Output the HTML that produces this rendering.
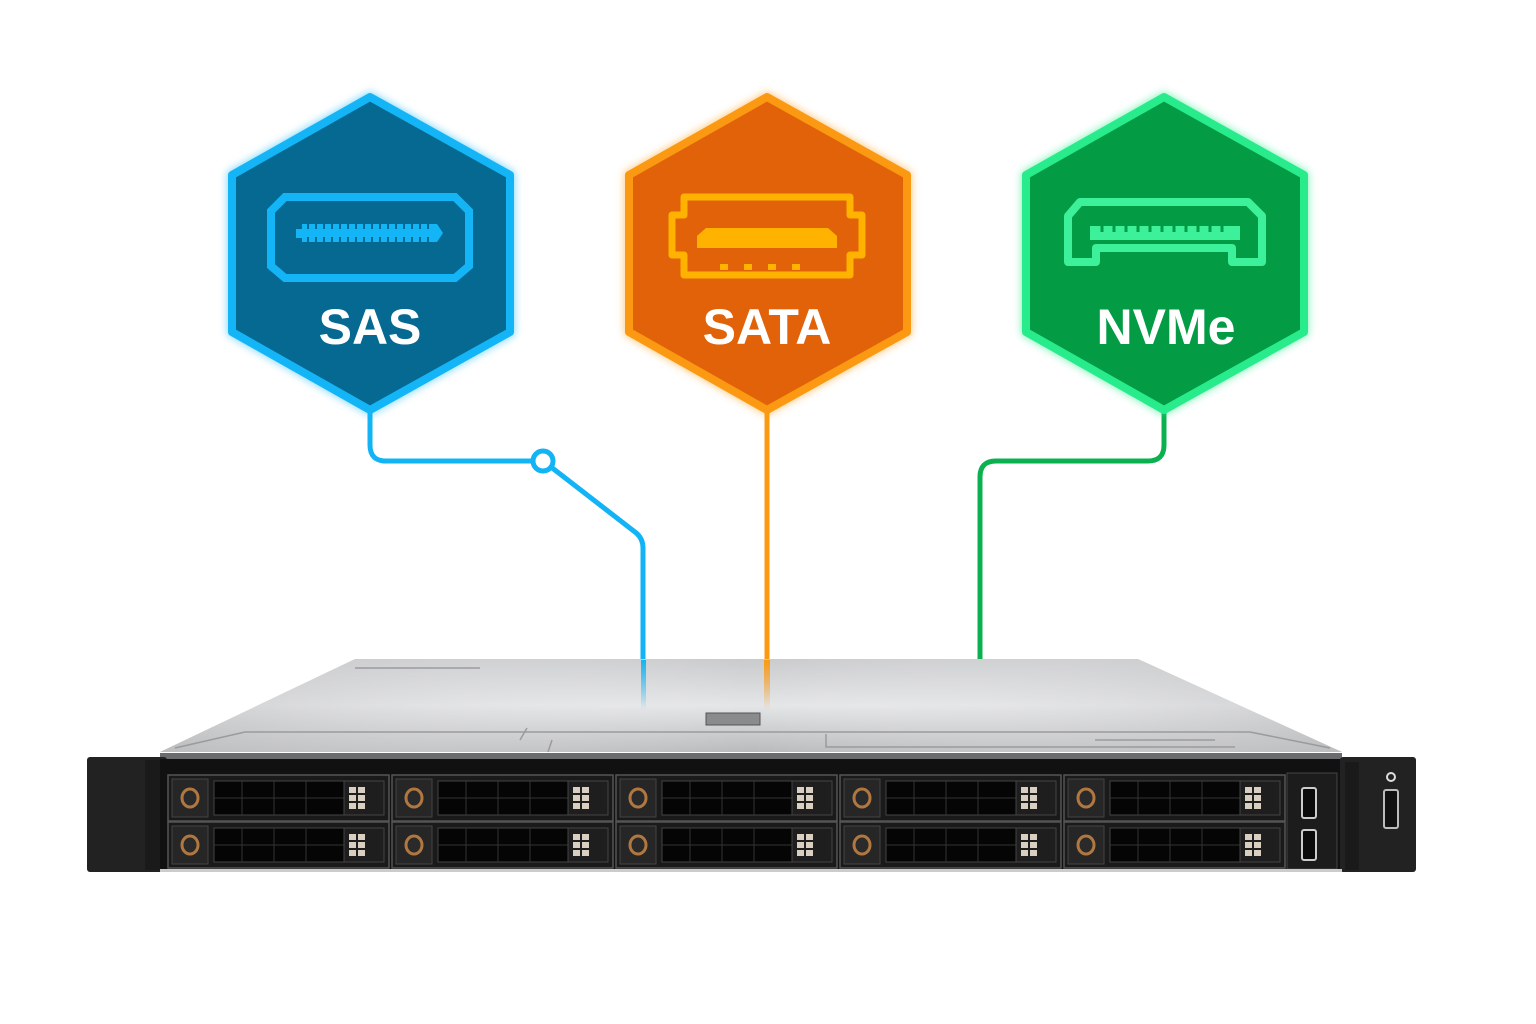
<!DOCTYPE html>
<html><head><meta charset="utf-8"><style>
html,body{margin:0;padding:0;background:#fff;width:1536px;height:1024px;overflow:hidden}
text{font-family:"Liberation Sans",sans-serif;font-weight:bold}
</style></head><body>
<svg width="1536" height="1024" viewBox="0 0 1536 1024" xmlns="http://www.w3.org/2000/svg">
<defs>
<linearGradient id="top" x1="0" y1="0" x2="0" y2="1"><stop offset="0" stop-color="#c9cacc"/><stop offset="0.5" stop-color="#e4e5e7"/><stop offset="1" stop-color="#b9babc"/></linearGradient>
<linearGradient id="topx" x1="0" y1="0" x2="1" y2="0"><stop offset="0" stop-color="#bfc0c2" stop-opacity=".6"/><stop offset=".5" stop-color="#fff" stop-opacity="0"/><stop offset="1" stop-color="#bfc0c2" stop-opacity=".6"/></linearGradient>
<linearGradient id="fadeB" x1="0" y1="0" x2="0" y2="1"><stop offset="0" stop-color="#12b4f5"/><stop offset="1" stop-color="#12b4f5" stop-opacity="0"/></linearGradient>
<linearGradient id="fadeO" x1="0" y1="0" x2="0" y2="1"><stop offset="0" stop-color="#fb9a12"/><stop offset="1" stop-color="#fb9a12" stop-opacity="0"/></linearGradient>
<filter id="glow" x="-20%" y="-20%" width="140%" height="140%"><feGaussianBlur stdDeviation="4"/></filter>
<g id="bay">
  <rect x="0" y="0" width="221" height="46" fill="#1a1a1a" stroke="#555" stroke-width="1.5"/>
  <rect x="4" y="4" width="36" height="38" fill="#262626" stroke="#444"/>
  <ellipse cx="22" cy="23" rx="8" ry="9" fill="#2a2a2a" stroke="#b07840" stroke-width="3"/>
  <rect x="46" y="6" width="130" height="34" fill="#050505" stroke="#444"/>
  <line x1="46" y1="23" x2="176" y2="23" stroke="#333"/>
  <line x1="74" y1="6" x2="74" y2="40" stroke="#333"/><line x1="106" y1="6" x2="106" y2="40" stroke="#333"/><line x1="138" y1="6" x2="138" y2="40" stroke="#333"/>
  <rect x="176" y="6" width="40" height="34" fill="#1e1e1e" stroke="#444"/>
  <g fill="#d8cfc0"><rect x="181" y="12" width="7" height="6"/><rect x="190" y="12" width="7" height="6"/><rect x="181" y="20" width="7" height="6"/><rect x="190" y="20" width="7" height="6"/><rect x="181" y="28" width="7" height="6"/><rect x="190" y="28" width="7" height="6"/></g>
</g>
</defs>

<!-- connectors -->
<g fill="none" stroke-width="5" stroke-linejoin="round" stroke-linecap="round">
<path d="M370 405 V445 Q370 461 386 461 H533" stroke="#12b4f5"/>
<path d="M551 467 L635 532 Q643 538 643 548 V660" stroke="#12b4f5"/>
<path d="M767 405 V665" stroke="#fb9a12"/>
<path d="M1164 405 V445 Q1164 461 1148 461 H996 Q980 461 980 477 V660" stroke="#0bb04f"/>
</g>
<circle cx="543" cy="461" r="10" fill="#fff" stroke="#12b4f5" stroke-width="5"/>

<!-- hexagons -->
<g>
<path d="M370 97 L510 175 L510 332 L370 410 L232 332 L232 175 Z" fill="#12b4f5" stroke="#12b4f5" stroke-width="10" stroke-linejoin="round" filter="url(#glow)" opacity=".5"/>
<path d="M370 97 L510 175 L510 332 L370 410 L232 332 L232 175 Z" fill="#056992" stroke="#14b5f6" stroke-width="8" stroke-linejoin="round"/>
<path d="M285 197 H455 L469 211 V266 L455 278 H285 L271 266 V211 Z" fill="none" stroke="#14b5f6" stroke-width="8"/>
<path d="M296 234 V229 H302 V224 H437 L443 233 L437 242 H302 V238 H296 Z" fill="#14b5f6"/>
<g stroke="#056992" stroke-width="2"><path d="M308 224v5M316 224v5M324 224v5M332 224v5M340 224v5M348 224v5M356 224v5M364 224v5M372 224v5M380 224v5M388 224v5M396 224v5M404 224v5M412 224v5M420 224v5M428 224v5M308 242v-5M316 242v-5M324 242v-5M332 242v-5M340 242v-5M348 242v-5M356 242v-5M364 242v-5M372 242v-5M380 242v-5M388 242v-5M396 242v-5M404 242v-5M412 242v-5M420 242v-5M428 242v-5"/></g>
<text x="370" y="344" font-size="50" fill="#fff" text-anchor="middle">SAS</text>
</g>
<g>
<path d="M767 97 L907 175 L907 332 L767 410 L629 332 L629 175 Z" fill="#fb9a12" stroke="#fb9a12" stroke-width="10" stroke-linejoin="round" filter="url(#glow)" opacity=".5"/>
<path d="M767 97 L907 175 L907 332 L767 410 L629 332 L629 175 Z" fill="#e2620a" stroke="#fb9a12" stroke-width="8" stroke-linejoin="round"/>
<path d="M684 197 H850 V215 H862 V255 H850 V275 H684 V255 H672 V215 H684 Z" fill="none" stroke="#ffb300" stroke-width="7" stroke-linejoin="round"/>
<path d="M697 248 V236 L706 228 H828 L837 236 V248 Z" fill="#ffb300"/>
<g fill="#ffb300"><rect x="720" y="264" width="8" height="6"/><rect x="744" y="264" width="8" height="6"/><rect x="768" y="264" width="8" height="6"/><rect x="792" y="264" width="8" height="6"/></g>
<text x="767" y="344" font-size="50" fill="#fff" text-anchor="middle">SATA</text>
</g>
<g>
<path d="M1164 97 L1304 175 L1304 332 L1164 410 L1026 332 L1026 175 Z" fill="#1de882" stroke="#1de882" stroke-width="10" stroke-linejoin="round" filter="url(#glow)" opacity=".5"/>
<path d="M1164 97 L1304 175 L1304 332 L1164 410 L1026 332 L1026 175 Z" fill="#039b44" stroke="#28ec8c" stroke-width="8" stroke-linejoin="round"/>
<path d="M1080 202 H1248 L1262 216 V262 H1232 V248 H1096 V262 H1068 V216 Z" fill="none" stroke="#3df09a" stroke-width="8" stroke-linejoin="round"/>
<path d="M1090 240 V226 H1240 V240 Z" fill="#3df09a"/>
<g stroke="#039b44" stroke-width="3"><path d="M1102 226v6M1114 226v6M1126 226v6M1138 226v6M1150 226v6M1162 226v6M1174 226v6M1186 226v6M1198 226v6M1210 226v6M1222 226v6"/></g>
<text x="1166" y="344" font-size="50" fill="#fff" text-anchor="middle">NVMe</text>
</g>

<!-- server top -->
<path d="M355 659 H1138 L1342 752 H160 Z" fill="url(#top)"/>
<path d="M355 659 H1138 L1342 752 H160 Z" fill="url(#topx)"/>
<rect x="641" y="660" width="5" height="50" fill="url(#fadeB)"/>
<rect x="764" y="660" width="6" height="50" fill="url(#fadeO)"/>
<g stroke="#9a9b9d" stroke-width="1.5" fill="none">
<path d="M175 748 L245 732 H1250 L1330 748"/>
<path d="M355 668 H480"/>
<path d="M520 740 L527 728"/><path d="M548 752 L552 740"/>
<path d="M826 734 V747 H1235"/>
<path d="M1095 740 H1215"/>
</g>
<rect x="706" y="713" width="54" height="12" fill="#8a8b8d" stroke="#555"/>

<!-- server front -->
<rect x="160" y="753" width="1182" height="6" fill="#6b6c6e"/>
<rect x="87" y="757" width="80" height="115" fill="#222" rx="3"/>
<rect x="145" y="760" width="20" height="110" fill="#1a1a1a"/>
<rect x="160" y="759" width="1182" height="113" fill="#111"/>
<rect x="1340" y="757" width="76" height="115" fill="#222" rx="3"/>
<rect x="1345" y="762" width="14" height="108" fill="#1a1a1a"/>
<circle cx="1391" cy="777" r="4" fill="none" stroke="#ddd" stroke-width="2"/>
<rect x="1384" y="790" width="14" height="38" rx="2" fill="#111" stroke="#bbb" stroke-width="2"/>
<use href="#bay" x="168" y="775"/><use href="#bay" x="168" y="822"/>
<use href="#bay" x="392" y="775"/><use href="#bay" x="392" y="822"/>
<use href="#bay" x="616" y="775"/><use href="#bay" x="616" y="822"/>
<use href="#bay" x="840" y="775"/><use href="#bay" x="840" y="822"/>
<use href="#bay" x="1064" y="775"/><use href="#bay" x="1064" y="822"/>
<rect x="1287" y="773" width="50" height="96" fill="#1c1c1c" stroke="#444"/>
<rect x="1302" y="788" width="14" height="30" rx="2" fill="#0b0b0b" stroke="#ccc" stroke-width="2"/>
<rect x="1302" y="830" width="14" height="30" rx="2" fill="#0b0b0b" stroke="#ccc" stroke-width="2"/>
<rect x="160" y="869" width="1182" height="3" fill="#ccc"/>
</svg>
</body></html>
